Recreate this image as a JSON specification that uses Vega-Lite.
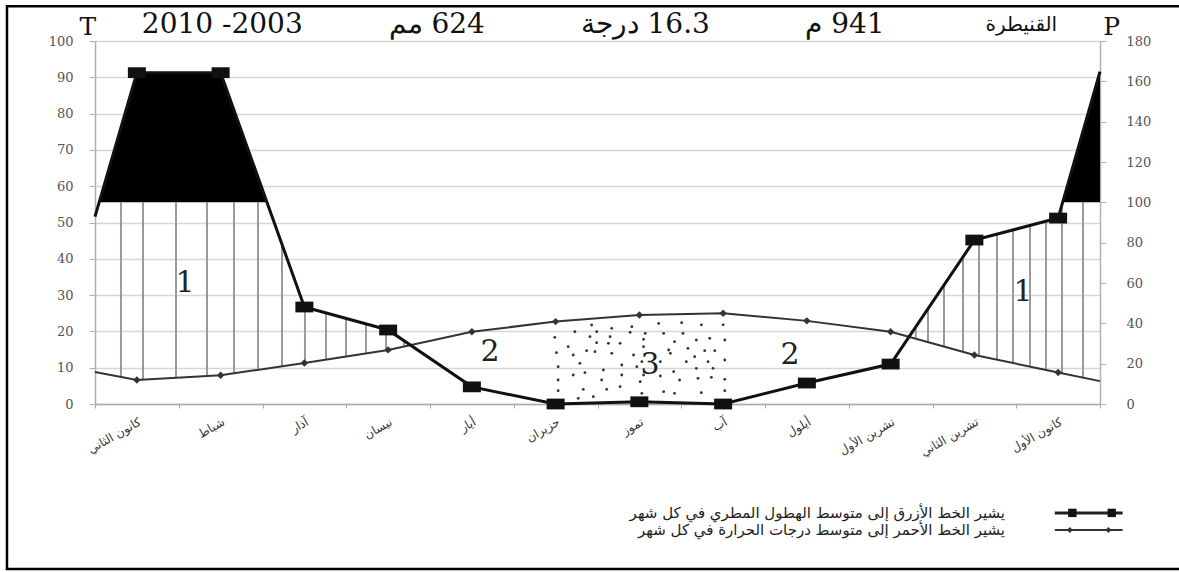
{
  "$schema": "https://vega.github.io/schema/vega-lite/v6.json",
  "width": 1005,
  "height": 363,
  "autosize": {"type": "none"},
  "padding": {"left": 95, "top": 41, "right": 79, "bottom": 168},
  "background": "white",
  "view": {"stroke": null},
  "datasets": {
    "temp": [
      {"m": 0.5, "t": 8.8, "mk": false},
      {"m": 1, "t": 6.6, "mk": true},
      {"m": 2, "t": 7.9, "mk": true},
      {"m": 3, "t": 11.3, "mk": true},
      {"m": 4, "t": 14.9, "mk": true},
      {"m": 5, "t": 19.9, "mk": true},
      {"m": 6, "t": 22.7, "mk": true},
      {"m": 7, "t": 24.5, "mk": true},
      {"m": 8, "t": 25.0, "mk": true},
      {"m": 9, "t": 22.9, "mk": true},
      {"m": 10, "t": 19.9, "mk": true},
      {"m": 11, "t": 13.5, "mk": true},
      {"m": 12, "t": 8.7, "mk": true},
      {"m": 12.5, "t": 6.3, "mk": false}
    ],
    "rain": [
      {"m": 0.5, "p": 92.9, "mk": false},
      {"m": 1, "p": 164.3, "mk": true},
      {"m": 2, "p": 164.3, "mk": true},
      {"m": 3, "p": 48.1, "mk": true},
      {"m": 4, "p": 36.7, "mk": true},
      {"m": 5, "p": 8.5, "mk": true},
      {"m": 6, "p": 0, "mk": true},
      {"m": 7, "p": 1.1, "mk": true},
      {"m": 8, "p": 0, "mk": true},
      {"m": 9, "p": 10.4, "mk": true},
      {"m": 10, "p": 19.8, "mk": true},
      {"m": 11, "p": 81.3, "mk": true},
      {"m": 12, "p": 92.2, "mk": true},
      {"m": 12.5, "p": 164.8, "mk": false}
    ],
    "black": [
      {"m": 0.55, "p": 100, "g": "a"},
      {"m": 1, "p": 164.3, "g": "a"},
      {"m": 2, "p": 164.3, "g": "a"},
      {"m": 2.54, "p": 100, "g": "a"},
      {"m": 12.054, "p": 100, "g": "b"},
      {"m": 12.5, "p": 164.8, "g": "b"}
    ],
    "hatch": [
      {"m": 0.81, "t": 7.44, "t2": 55.56},
      {"m": 1.073, "t": 6.7, "t2": 55.56},
      {"m": 1.467, "t": 7.2, "t2": 55.56},
      {"m": 1.837, "t": 7.7, "t2": 55.56},
      {"m": 2.16, "t": 8.44, "t2": 55.56},
      {"m": 2.446, "t": 9.42, "t2": 55.56},
      {"m": 2.733, "t": 10.39, "t2": 43.9},
      {"m": 3.007, "t": 11.33, "t2": 26.7},
      {"m": 3.258, "t": 12.23, "t2": 25.09},
      {"m": 3.497, "t": 13.09, "t2": 23.57},
      {"m": 3.736, "t": 13.95, "t2": 22.06},
      {"m": 3.975, "t": 14.81, "t2": 20.55},
      {"m": 4.19, "t": 15.85, "t2": 17.41},
      {"m": 10.3, "t": 17.98, "t2": 21.25},
      {"m": 10.446, "t": 17.05, "t2": 26.2},
      {"m": 10.637, "t": 15.82, "t2": 32.77},
      {"m": 10.864, "t": 14.37, "t2": 40.52},
      {"m": 11.055, "t": 13.24, "t2": 45.5},
      {"m": 11.27, "t": 12.2, "t2": 46.8},
      {"m": 11.461, "t": 11.29, "t2": 47.96},
      {"m": 11.664, "t": 10.31, "t2": 49.19},
      {"m": 11.855, "t": 9.4, "t2": 50.34},
      {"m": 12.046, "t": 8.48, "t2": 54.9},
      {"m": 12.297, "t": 7.27, "t2": 55.56}
    ],
    "dots": [
      {"m": 6.43, "t": 21.76}, {"m": 6.67, "t": 20.84}, {"m": 6.91, "t": 21.3}, {"m": 7.23, "t": 22.2},
      {"m": 7.505, "t": 22.4}, {"m": 7.74, "t": 21.8}, {"m": 8.0, "t": 21.8}, {"m": 6.23, "t": 19.93},
      {"m": 6.49, "t": 19.93}, {"m": 6.65, "t": 18.55}, {"m": 6.89, "t": 19.74}, {"m": 7.07, "t": 19.47},
      {"m": 7.29, "t": 19.47}, {"m": 7.52, "t": 19.47}, {"m": 5.99, "t": 18.37}, {"m": 6.41, "t": 18.55},
      {"m": 6.77, "t": 16.71}, {"m": 7.05, "t": 17.81}, {"m": 7.42, "t": 17.17}, {"m": 7.68, "t": 17.63},
      {"m": 7.84, "t": 18.09}, {"m": 8.02, "t": 17.63}, {"m": 6.15, "t": 15.79}, {"m": 6.49, "t": 16.9},
      {"m": 6.63, "t": 16.71}, {"m": 7.05, "t": 15.79}, {"m": 7.35, "t": 14.88}, {"m": 7.58, "t": 15.33},
      {"m": 7.78, "t": 14.69}, {"m": 7.9, "t": 14.69}, {"m": 6.01, "t": 14.14}, {"m": 6.21, "t": 13.5},
      {"m": 6.37, "t": 14.69}, {"m": 6.47, "t": 14.42}, {"m": 6.67, "t": 13.96}, {"m": 6.93, "t": 13.5},
      {"m": 7.37, "t": 13.96}, {"m": 7.66, "t": 13.04}, {"m": 8.02, "t": 12.12}, {"m": 7.03, "t": 11.66},
      {"m": 7.56, "t": 11.66}, {"m": 7.82, "t": 11.66}, {"m": 6.29, "t": 11.2}, {"m": 6.03, "t": 10.28},
      {"m": 6.79, "t": 10.74}, {"m": 6.57, "t": 9.37}, {"m": 6.97, "t": 10.28}, {"m": 6.21, "t": 7.99},
      {"m": 6.35, "t": 8.63}, {"m": 6.79, "t": 7.99}, {"m": 7.05, "t": 7.99}, {"m": 7.25, "t": 7.71},
      {"m": 7.41, "t": 8.91}, {"m": 7.68, "t": 9.83}, {"m": 7.88, "t": 9.83}, {"m": 6.03, "t": 6.61},
      {"m": 6.55, "t": 6.61}, {"m": 7.01, "t": 6.15}, {"m": 7.48, "t": 6.61}, {"m": 7.7, "t": 7.07},
      {"m": 7.86, "t": 7.35}, {"m": 8.02, "t": 6.8}, {"m": 6.03, "t": 3.67}, {"m": 6.33, "t": 4.04},
      {"m": 6.61, "t": 4.04}, {"m": 6.77, "t": 4.78}, {"m": 7.03, "t": 2.94}, {"m": 7.29, "t": 3.4},
      {"m": 7.42, "t": 2.94}, {"m": 7.74, "t": 3.12}, {"m": 8.02, "t": 3.67}, {"m": 6.27, "t": 1.56},
      {"m": 6.45, "t": 2.02}, {"m": 7.25, "t": 11.66}
    ],
    "zones": [
      {"m": 1.575, "t": 33.3, "txt": "1"},
      {"m": 11.58, "t": 30.9, "txt": "1"},
      {"m": 5.216, "t": 14.3, "txt": "2"},
      {"m": 8.8, "t": 13.5, "txt": "2"},
      {"m": 7.127, "t": 10.7, "txt": "3"}
    ],
    "axisLetters": [
      {"m": 0.416, "t": 103.9, "txt": "T"},
      {"m": 12.64, "t": 103.9, "txt": "P"}
    ],
    "header": [
      {"m": 2.02, "t": 104.4, "txt": "2010 -2003", "kind": "num"},
      {"m": 4.58, "t": 104.4, "txt": "مم‎ 624", "kind": "num"},
      {"m": 7.07, "t": 104.4, "txt": "درجة‎ 16.3", "kind": "num"},
      {"m": 9.455, "t": 104.4, "txt": "م‎ 941", "kind": "num"},
      {"m": 11.56, "t": 104.4, "txt": "القنيطرة", "kind": "name"}
    ],
    "frame": [
      {"m": -0.551, "m2": 13.6, "t": 109.6, "t2": -45.45}
    ],
    "legLines": [
      {"m": 11.96, "t": -30, "s": "P"},
      {"m": 12.77, "t": -30, "s": "P"},
      {"m": 11.96, "t": -34.7, "s": "T"},
      {"m": 12.77, "t": -34.7, "s": "T"}
    ],
    "legPts": [
      {"m": 12.17, "t": -30, "s": "P"},
      {"m": 12.64, "t": -30, "s": "P"},
      {"m": 12.14, "t": -34.7, "s": "T"},
      {"m": 12.6, "t": -34.7, "s": "T"}
    ],
    "legText": [
      {"m": 11.366, "t": -30, "txt": "يشير الخط الأزرق إلى متوسط الهطول المطري في كل شهر"},
      {"m": 11.366, "t": -34.7, "txt": "يشير الخط الأحمر إلى متوسط درجات الحرارة في كل شهر"}
    ]
  },
  "encoding": {
    "x": {
      "field": "m",
      "type": "quantitative",
      "scale": {"domain": [0.5, 12.5], "nice": false, "zero": false},
      "axis": {
        "values": [0.5, 1, 1.5, 2, 2.5, 3, 3.5, 4, 4.5, 5, 5.5, 6, 6.5, 7, 7.5, 8, 8.5, 9, 9.5, 10, 10.5, 11, 11.5, 12, 12.5],
        "labelExpr": "datum.value % 1 === 0 ? ['كانون الثاني','شباط','آذار','نيسان','أيار','حزيران','تموز','آب','أيلول','تشرين الأول','تشرين الثاني','كانون الأول'][datum.value - 1] : ''",
        "labelAngle": -30,
        "labelAlign": "right",
        "labelBaseline": "top",
        "labelFont": "DejaVu Sans",
        "labelFontSize": 12,
        "labelColor": "#333333",
        "labelOverlap": false,
        "labelBound": false,
        "labelFlush": false,
        "labelPadding": 8,
        "tickOpacity": {"condition": {"test": "datum.value % 1 === 0", "value": 0}, "value": 1},
        "tickColor": "#aaaaaa",
        "tickSize": 4,
        "domainColor": "#aaaaaa",
        "domainWidth": 1.5,
        "grid": false,
        "title": null
      }
    }
  },
  "layer": [
    {
      "encoding": {
        "y": {
          "field": "t",
          "type": "quantitative",
          "scale": {"domain": [0, 100], "nice": false, "zero": false},
          "axis": {
            "values": [0, 10, 20, 30, 40, 50, 60, 70, 80, 90, 100],
            "grid": true,
            "gridColor": "#d6d6d6",
            "gridWidth": 1.5,
            "domainColor": "#b0b0b0",
            "domainWidth": 1.5,
            "tickColor": "#b0b0b0",
            "tickSize": 6,
            "labelFont": "DejaVu Serif",
            "labelFontSize": 13,
            "labelColor": "#555555",
            "labelPadding": 16,
            "title": null
          }
        }
      },
      "layer": [
        {
          "data": {"name": "frame"},
          "mark": {"type": "rect", "filled": false, "color": "black", "strokeWidth": 2.5},
          "encoding": {"x2": {"field": "m2"}, "y2": {"field": "t2"}}
        },
        {
          "data": {"name": "hatch"},
          "mark": {"type": "rule", "color": "#9a9a9a", "strokeWidth": 2},
          "encoding": {"y2": {"field": "t2"}}
        },
        {
          "data": {"name": "dots"},
          "mark": {"type": "point", "filled": true, "color": "#333333", "size": 8, "opacity": 1}
        },
        {
          "data": {"name": "temp"},
          "mark": {"type": "line", "color": "#333333", "strokeWidth": 2}
        },
        {
          "data": {"name": "temp"},
          "transform": [{"filter": "datum.mk"}],
          "mark": {"type": "point", "shape": "diamond", "filled": true, "color": "#333333", "size": 55, "opacity": 1}
        },
        {
          "data": {"name": "zones"},
          "mark": {"type": "text", "font": "DejaVu Serif", "fontSize": 30, "color": "#222222", "align": "center", "baseline": "middle"},
          "encoding": {"text": {"field": "txt"}}
        },
        {
          "data": {"name": "axisLetters"},
          "mark": {"type": "text", "font": "DejaVu Serif", "fontSize": 25, "color": "#111111", "align": "center", "baseline": "middle"},
          "encoding": {"text": {"field": "txt"}}
        },
        {
          "data": {"name": "header"},
          "transform": [{"filter": "datum.kind === 'num'"}],
          "mark": {"type": "text", "font": "DejaVu Serif", "fontSize": 28, "color": "#111111", "align": "center", "baseline": "middle"},
          "encoding": {"text": {"field": "txt"}}
        },
        {
          "data": {"name": "header"},
          "transform": [{"filter": "datum.kind === 'name'"}],
          "mark": {"type": "text", "font": "DejaVu Sans", "fontSize": 20, "color": "#111111", "align": "center", "baseline": "middle"},
          "encoding": {"text": {"field": "txt"}}
        },
        {
          "data": {"name": "legLines"},
          "transform": [{"filter": "datum.s === 'P'"}],
          "mark": {"type": "line", "color": "#222222", "strokeWidth": 3}
        },
        {
          "data": {"name": "legLines"},
          "transform": [{"filter": "datum.s === 'T'"}],
          "mark": {"type": "line", "color": "#333333", "strokeWidth": 2}
        },
        {
          "data": {"name": "legPts"},
          "transform": [{"filter": "datum.s === 'P'"}],
          "mark": {"type": "point", "shape": "square", "filled": true, "color": "#111111", "size": 70, "opacity": 1}
        },
        {
          "data": {"name": "legPts"},
          "transform": [{"filter": "datum.s === 'T'"}],
          "mark": {"type": "point", "shape": "diamond", "filled": true, "color": "#333333", "size": 35, "opacity": 1}
        },
        {
          "data": {"name": "legText"},
          "mark": {"type": "text", "font": "DejaVu Sans", "fontSize": 15, "color": "#222222", "align": "right", "baseline": "middle"},
          "encoding": {"text": {"field": "txt"}}
        }
      ]
    },
    {
      "encoding": {
        "y": {
          "field": "p",
          "type": "quantitative",
          "scale": {"domain": [0, 180], "nice": false, "zero": false},
          "axis": {
            "orient": "right",
            "values": [0, 20, 40, 60, 80, 100, 120, 140, 160, 180],
            "grid": false,
            "domainColor": "#b0b0b0",
            "domainWidth": 1.5,
            "tickColor": "#b0b0b0",
            "tickSize": 6,
            "labelFont": "DejaVu Serif",
            "labelFontSize": 13,
            "labelColor": "#555555",
            "labelPadding": 20,
            "title": null
          }
        }
      },
      "layer": [
        {
          "data": {"name": "black"},
          "mark": {"type": "area", "color": "black", "opacity": 1},
          "encoding": {"y2": {"datum": 100}, "detail": {"field": "g"}}
        },
        {
          "data": {"name": "rain"},
          "mark": {"type": "line", "color": "#111111", "strokeWidth": 3}
        },
        {
          "data": {"name": "rain"},
          "transform": [{"filter": "datum.mk"}],
          "mark": {"type": "point", "shape": "M-1,-0.6H1V0.6H-1Z", "filled": true, "color": "#111111", "size": 324, "opacity": 1}
        }
      ]
    }
  ],
  "resolve": {"scale": {"y": "independent"}}
}
